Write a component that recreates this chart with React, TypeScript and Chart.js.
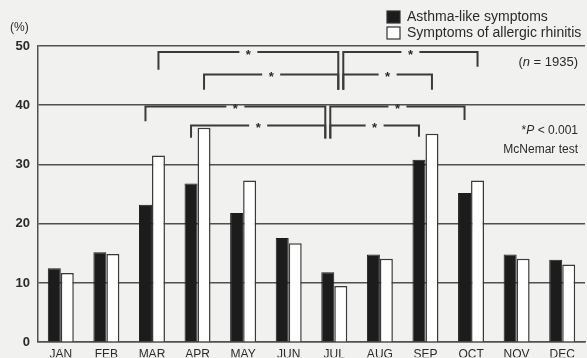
import React, { useEffect, useRef } from "react";
import { Chart, registerables } from "chart.js";

Chart.register(...registerables);

const months = ["JAN", "FEB", "MAR", "APR", "MAY", "JUN", "JUL", "AUG", "SEP", "OCT", "NOV", "DEC"];
const asthma = [12.5, 15.2, 23.2, 26.8, 21.8, 17.6, 11.8, 14.8, 30.8, 25.2, 14.8, 13.9];
const rhinitis = [11.7, 14.9, 31.5, 36.2, 27.3, 16.7, 9.5, 14.1, 35.2, 27.3, 14.1, 13.1];
const yTicks = [0, 10, 20, 30, 40, 50];
const seriesLabels = ["Asthma-like symptoms", "Symptoms of allergic rhinitis"];

// significance brackets: series, fromIndex, toIndex, level, leftLegEnd, rightLegEnd
const bracketSeries = [1, 1, 1, 1, 0, 0, 0, 0];
const bracketFrom = [2, 6, 3, 6, 2, 6, 3, 6];
const bracketTo = [6, 9, 6, 8, 6, 9, 6, 8];
const bracketLevel = [49.0, 49.0, 45.2, 45.2, 39.8, 39.8, 36.6, 36.6];
const bracketLeftEnd = [46.0, 42.6, 42.6, 42.6, 37.3, 34.4, 34.5, 34.4];
const bracketRightEnd = [42.6, 46.5, 42.6, 42.6, 34.4, 37.5, 34.4, 34.7];
const hubIndex = 6;

// annotation text pieces: [text, italic]
const nParts: [string, boolean][] = [["(", false], ["n", true], [" = 1935)", false]];
const pParts: [string, boolean][] = [["*", false], ["P", true], [" < 0.001", false]];
const testText = "McNemar test";

const FONT = "'Liberation Sans', Arial, sans-serif";
const INK = "#2a2a2a";
const LINE = "#505050";

function drawParts(ctx: any, parts: [string, boolean][], right: number, y: number, size: number) {
  const fonts = parts.map(([, it]) => `${it ? "italic " : ""}${size}px ${FONT}`);
  const widths = parts.map(([t], i) => {
    ctx.font = fonts[i];
    return ctx.measureText(t).width;
  });
  let x = right - widths.reduce((a, b) => a + b, 0);
  ctx.textAlign = "left";
  parts.forEach(([t], i) => {
    ctx.font = fonts[i];
    ctx.fillText(t, x, y);
    x += widths[i];
  });
}

const overlay = {
  id: "overlay",
  beforeDraw(chart: any) {
    const { ctx, width, height } = chart;
    ctx.save();
    ctx.fillStyle = "#f1f1ef";
    ctx.fillRect(0, 0, width, height);
    ctx.restore();
  },
  afterDatasetsDraw(chart: any) {
    const { ctx } = chart;
    const ys = chart.scales.y;
    ctx.save();
    ctx.strokeStyle = "#3a3a3a";
    ctx.lineWidth = 2;
    ctx.fillStyle = INK;
    for (let i = 0; i < bracketFrom.length; i++) {
      const meta = chart.getDatasetMeta(bracketSeries[i]);
      const f = bracketFrom[i];
      const t = bracketTo[i];
      const x1 = meta.data[f].x + (f === hubIndex ? 2.5 : 0);
      const x2 = meta.data[t].x + (t === hubIndex ? -2.5 : 0);
      const y = ys.getPixelForValue(bracketLevel[i]);
      const yl = ys.getPixelForValue(bracketLeftEnd[i]);
      const yr = ys.getPixelForValue(bracketRightEnd[i]);
      const mid = (x1 + x2) / 2;
      const gap = 9;
      ctx.beginPath();
      ctx.moveTo(x1, yl);
      ctx.lineTo(x1, y);
      ctx.lineTo(mid - gap, y);
      ctx.moveTo(mid + gap, y);
      ctx.lineTo(x2, y);
      ctx.lineTo(x2, yr);
      ctx.stroke();
      ctx.font = `bold 13px ${FONT}`;
      ctx.textAlign = "center";
      ctx.textBaseline = "middle";
      ctx.fillText("*", mid, y + 3);
    }
    ctx.restore();
  },
  afterDraw(chart: any) {
    const { ctx } = chart;
    ctx.save();
    ctx.fillStyle = INK;
    ctx.font = `12px ${FONT}`;
    ctx.textBaseline = "middle";
    ctx.textAlign = "left";
    ctx.fillText("(%)", 10, 28);
    // legend
    const colors = ["#1c1c1c", "#ffffff"];
    const rows = [17, 33];
    for (let i = 0; i < seriesLabels.length; i++) {
      ctx.fillStyle = colors[i];
      ctx.strokeStyle = "#333";
      ctx.lineWidth = 1.2;
      ctx.fillRect(387, rows[i] - 6, 13, 12);
      ctx.strokeRect(387, rows[i] - 6, 13, 12);
      ctx.fillStyle = INK;
      ctx.font = `14px ${FONT}`;
      ctx.fillText(seriesLabels[i], 407, rows[i]);
    }
    drawParts(ctx, nParts, 578, 62, 13);
    drawParts(ctx, pParts, 578, 131, 12);
    ctx.textAlign = "right";
    ctx.font = `12px ${FONT}`;
    ctx.fillText(testText, 578, 150);
    ctx.restore();
  },
};

export default function App() {
  const ref = useRef<HTMLCanvasElement | null>(null);
  useEffect(() => {
    document.body.style.margin = "0";
    if (!ref.current) return;
    const chart = new Chart(ref.current, {
      type: "bar",
      data: {
        labels: months,
        datasets: [
          {
            label: seriesLabels[0],
            data: asthma,
            backgroundColor: "#1c1c1c",
            borderColor: "#1c1c1c",
            borderWidth: 1,
            categoryPercentage: 0.57,
            barPercentage: 1.0,
          },
          {
            label: seriesLabels[1],
            data: rhinitis,
            backgroundColor: "#ffffff",
            borderColor: "#3a3a3a",
            borderWidth: 1.5,
            borderSkipped: "bottom",
            categoryPercentage: 0.57,
            barPercentage: 1.0,
          },
        ],
      },
      options: {
        responsive: false,
        animation: false,
        devicePixelRatio: 1,
        layout: { padding: { top: 46, right: 2, left: 0, bottom: 0 } },
        plugins: { legend: { display: false }, tooltip: { enabled: false } },
        scales: {
          x: {
            grid: { display: false, drawTicks: false },
            border: { display: true, color: LINE, width: 1.5 },
            ticks: { color: INK, font: { family: FONT, size: 12 }, padding: 5, maxRotation: 0 },
            afterFit: (s: any) => { s.height = 15; },
          },
          y: {
            min: 0,
            max: 50,
            afterBuildTicks: (s: any) => { s.ticks = yTicks.map((v) => ({ value: v })); },
            grid: { color: LINE, lineWidth: 1.5, drawTicks: false },
            border: { display: true, color: LINE, width: 1.5 },
            ticks: { color: INK, font: { family: FONT, size: 13, weight: "bold" }, padding: 8 },
            afterFit: (s: any) => { s.width = 38; },
          },
        },
      },
      plugins: [overlay],
    });
    return () => chart.destroy();
  }, []);
  return (
    <div style={{ width: 587, height: 358 }}>
      <canvas ref={ref} width={587} height={358} style={{ display: "block" }} />
    </div>
  );
}
